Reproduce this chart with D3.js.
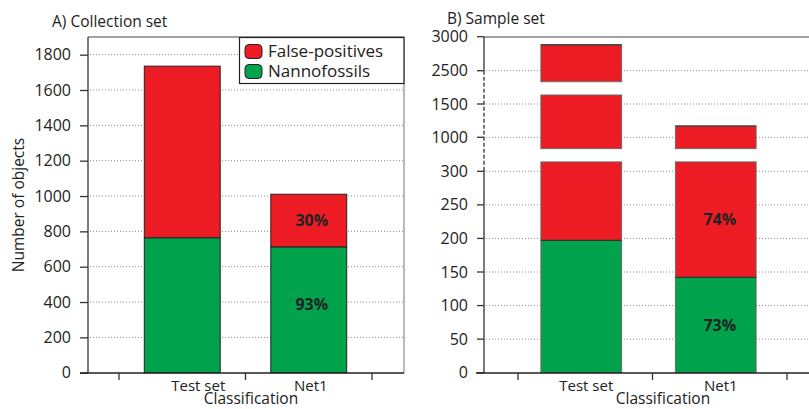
<!DOCTYPE html>
<html>
<head>
<meta charset="utf-8">
<script src="https://cdn.jsdelivr.net/npm/d3@7/dist/d3.min.js"></script>
<style>
  html, body { margin: 0; padding: 0; background: #fff; }
  svg { display: block; font-family: "Open Sans", "DejaVu Sans", sans-serif; }
</style>
</head>
<body>
<svg id="chart" width="809" height="409"></svg>
<script>
// ---- data ----
const categories = ["Test set", "Net1"];
const seriesNames = ["False-positives", "Nannofossils"];

// Panel A: collection set (object counts)
const collectionNanno = [763, 711];
const collectionTotal = [1735, 1010];
const collectionPct = [null, null, "30%", "93%"]; // [testFP, testNanno, netFP, netNanno]

// Panel B: sample set (object counts)
const sampleNanno = [197, 142];
const sampleTotal = [2880, 1170];
const samplePct = [null, null, "74%", "73%"];

const ticksA = [0, 200, 400, 600, 800, 1000, 1200, 1400, 1600, 1800];
const ticksB = [0, 50, 100, 150, 200, 250, 300, 1000, 1500, 2500, 3000];

const RED = "#ED1C24", GREEN = "#00A24B";

const svg = d3.select("#chart");

// dotted horizontal grid helper
function grid(g, ys, x0, x1) {
  g.selectAll("line.grid").data(ys).join("line")
    .attr("class", "grid")
    .attr("x1", x0).attr("x2", x1)
    .attr("y1", d => d).attr("y2", d => d)
    .attr("stroke", "#8a8a8a").attr("stroke-width", 1)
    .attr("stroke-dasharray", "1,2");
}

// ---------------- Panel A ----------------
{
  const L = 88, R = 404, T = 37, B = 373;
  const g = svg.append("g");
  const y = d3.scaleLinear().domain([0, 1900]).range([372.7, T]);
  const x = d3.scaleBand().domain(categories).range([119, 372]).paddingInner(0);
  const bw = x.bandwidth() * 0.6;

  grid(g, ticksA.filter(d => d > 0).map(y), L + 2, R);

  // frame
  g.append("line").attr("x1", L).attr("x2", R).attr("y1", T).attr("y2", T).attr("stroke", "#444");
  g.append("line").attr("x1", R).attr("x2", R).attr("y1", T).attr("y2", B).attr("stroke", "#777");

  const stacks = categories.map((c, i) => ({
    c, nanno: collectionNanno[i], total: collectionTotal[i]
  }));
  // bars: nannofossils at base, false positives stacked on top
  g.selectAll("rect.fp").data(stacks).join("rect")
    .attr("x", d => x(d.c) + (x.bandwidth() - bw) / 2)
    .attr("width", bw)
    .attr("y", d => y(d.total))
    .attr("height", d => y(d.nanno) - y(d.total))
    .attr("fill", RED).attr("stroke", "#222").attr("stroke-width", 1);
  g.selectAll("rect.nn").data(stacks).join("rect")
    .attr("x", d => x(d.c) + (x.bandwidth() - bw) / 2)
    .attr("width", bw)
    .attr("y", d => y(d.nanno))
    .attr("height", d => y(0) - y(d.nanno))
    .attr("fill", GREEN).attr("stroke", "#222").attr("stroke-width", 1);

  // percentage labels
  stacks.forEach((d, i) => {
    const cx = x(d.c) + x.bandwidth() / 2 + 3;
    const fp = collectionPct[i * 2], nn = collectionPct[i * 2 + 1];
    if (fp) g.append("text").attr("x", cx).attr("y", y((d.total + d.nanno) / 2))
      .attr("dy", "0.35em").attr("text-anchor", "middle")
      .attr("font-weight", "bold").attr("font-size", 16).attr("fill", "#222").text(fp);
    if (nn) g.append("text").attr("x", cx).attr("y", y(d.nanno / 2) - 5)
      .attr("dy", "0.35em").attr("text-anchor", "middle")
      .attr("font-weight", "bold").attr("font-size", 16).attr("fill", "#222").text(nn);
  });

  // y axis
  const ya = g.append("g").attr("transform", `translate(${L},0)`)
    .call(d3.axisLeft(y).tickValues(ticksA).tickFormat(d3.format("d"))
      .tickSize(8).tickPadding(9).tickSizeOuter(0));
  ya.select(".domain").attr("d", `M0,${T}V${B}`).attr("stroke", "#333").attr("stroke-width", 1.3);
  ya.selectAll(".tick line").attr("stroke", "#333").attr("stroke-width", 1.3);
  ya.selectAll(".tick text").attr("font-size", 16).attr("fill", "#222")
    .attr("font-family", "Open Sans, sans-serif");

  // x axis: ticks on band boundaries
  g.append("line").attr("x1", L - 8).attr("x2", R).attr("y1", B).attr("y2", B)
    .attr("stroke", "#222").attr("stroke-width", 1.6);
  const bounds = [x.range()[0], ...categories.map(c => x(c) + x.bandwidth())];
  g.selectAll("line.xt").data(bounds).join("line")
    .attr("x1", d => d).attr("x2", d => d).attr("y1", B).attr("y2", B + 7)
    .attr("stroke", "#333").attr("stroke-width", 1.3);
  const labelShiftA = [16, 2];
  g.selectAll("text.xl").data(categories).join("text")
    .attr("x", (d, i) => x(d) + x.bandwidth() / 2 + labelShiftA[i]).attr("y", 391)
    .attr("text-anchor", "middle").attr("font-size", 15).attr("fill", "#222").text(d => d);

  g.append("text").attr("x", 251).attr("y", 404).attr("text-anchor", "middle")
    .attr("font-size", 15.5).attr("fill", "#222").text("Classification");
  g.append("text").attr("transform", `translate(24,${(T + B) / 2}) rotate(-90)`)
    .attr("text-anchor", "middle").attr("font-size", 15.5).attr("fill", "#222").text("Number of objects");
  g.append("text").attr("x", 52).attr("y", 27).attr("font-size", 15.5).attr("fill", "#222")
    .text("A) Collection set");

  // legend
  const lg = g.append("g");
  lg.append("rect").attr("x", 239.5).attr("y", 37.5).attr("width", R - 239.5).attr("height", 46)
    .attr("fill", "#fff").attr("stroke", "#222").attr("stroke-width", 1.2);
  const lcol = [RED, GREEN];
  seriesNames.forEach((n, i) => {
    lg.append("rect").attr("x", 245).attr("y", 44.5 + i * 20).attr("width", 17).attr("height", 14)
      .attr("rx", 4).attr("fill", lcol[i]).attr("stroke", "#222").attr("stroke-width", 1);
    lg.append("text").attr("x", 268).attr("y", 57 + i * 20).attr("font-size", 17)
      .attr("fill", "#222").text(n);
  });
}

// ---------------- Panel B (broken y axis) ----------------
{
  const L = 484, R = 821, T = 37, B = 373;
  const g = svg.append("g");
  // axis pieces: each has its own linear scale and visible value range
  const pieces = [
    { lo: 0,    hi: 314,  s: d3.scaleLinear().domain([0, 300]).range([372.7, 171.3]) },
    { lo: 830,  hi: 1635, s: d3.scaleLinear().domain([1000, 1500]).range([137.3, 104]) },
    { lo: 2338, hi: 3000, s: d3.scaleLinear().domain([2500, 3000]).range([70.7, 36.7]) }
  ];
  const pieceOf = v => pieces.find(p => v >= p.lo && v <= p.hi);
  const y = v => pieceOf(v).s(v);

  const x = d3.scaleBand().domain(categories).range([518, 787]).paddingInner(0);
  const bw = x.bandwidth() * 0.6;
  const barShift = -4;

  grid(g, ticksB.filter(d => d > 0 && d < 3000).map(y), L + 2, R);

  g.append("line").attr("x1", L).attr("x2", R).attr("y1", T).attr("y2", T).attr("stroke", "#444");

  const stacks = categories.map((c, i) => ({
    c, nanno: sampleNanno[i], total: sampleTotal[i]
  }));

  // draw one stacked layer clipped to each axis piece
  function layer(d, v0, v1, fill) {
    pieces.forEach(p => {
      const a = Math.max(v0, p.lo), b = Math.min(v1, p.hi);
      if (b <= a) return;
      const x0 = x(d.c) + (x.bandwidth() - bw) / 2 + barShift;
      g.append("rect").attr("x", x0).attr("width", bw)
        .attr("y", p.s(b)).attr("height", p.s(a) - p.s(b))
        .attr("fill", fill).attr("stroke", "#6a6a6a").attr("stroke-width", 1);
      if (b === v1 && v1 === d.total)
        g.append("line").attr("x1", x0).attr("x2", x0 + bw).attr("y1", p.s(b)).attr("y2", p.s(b))
          .attr("stroke", "#333").attr("stroke-width", 1.2);
    });
  }
  stacks.forEach(d => {
    layer(d, d.nanno, d.total, RED);
    layer(d, 0, d.nanno, GREEN);
    const x0 = x(d.c) + (x.bandwidth() - bw) / 2 + barShift;
    g.append("line").attr("x1", x0).attr("x2", x0 + bw).attr("y1", y(d.nanno)).attr("y2", y(d.nanno))
      .attr("stroke", "#333").attr("stroke-width", 1.2);
  });

  stacks.forEach((d, i) => {
    const cx = x(d.c) + x.bandwidth() / 2;
    const fp = samplePct[i * 2], nn = samplePct[i * 2 + 1];
    const top = Math.min(d.total, pieces[0].hi);
    if (fp) g.append("text").attr("x", cx).attr("y", y((top + d.nanno) / 2))
      .attr("dy", "0.35em").attr("text-anchor", "middle")
      .attr("font-weight", "bold").attr("font-size", 16).attr("fill", "#222").text(fp);
    if (nn) g.append("text").attr("x", cx).attr("y", y(d.nanno / 2))
      .attr("dy", "0.35em").attr("text-anchor", "middle")
      .attr("font-weight", "bold").attr("font-size", 16).attr("fill", "#222").text(nn);
  });

  // y axis line: solid, dashed across the broken region
  g.append("line").attr("x1", L).attr("x2", L).attr("y1", T).attr("y2", y(2500))
    .attr("stroke", "#333").attr("stroke-width", 1.3);
  g.append("line").attr("x1", L).attr("x2", L).attr("y1", y(2500)).attr("y2", y(300) - 4)
    .attr("stroke", "#333").attr("stroke-width", 1.3).attr("stroke-dasharray", "4,2");
  g.append("line").attr("x1", L).attr("x2", L).attr("y1", y(300) - 4).attr("y2", B)
    .attr("stroke", "#333").attr("stroke-width", 1.3);

  g.selectAll("line.yt").data(ticksB).join("line")
    .attr("x1", L - 7).attr("x2", L).attr("y1", d => y(d)).attr("y2", d => y(d))
    .attr("stroke", "#333").attr("stroke-width", 1.3);
  g.selectAll("text.yl").data(ticksB).join("text")
    .attr("x", L - 16).attr("y", d => y(d)).attr("dy", "0.35em")
    .attr("text-anchor", "end").attr("font-size", 16).attr("fill", "#222").text(d => d);

  g.append("line").attr("x1", L - 8).attr("x2", R).attr("y1", B).attr("y2", B)
    .attr("stroke", "#222").attr("stroke-width", 1.6);
  const bounds = [x.range()[0], ...categories.map(c => x(c) + x.bandwidth())];
  g.selectAll("line.xt").data(bounds).join("line")
    .attr("x1", d => d).attr("x2", d => d).attr("y1", B).attr("y2", B + 7)
    .attr("stroke", "#333").attr("stroke-width", 1.3);
  g.selectAll("text.xl").data(categories).join("text")
    .attr("x", d => x(d) + x.bandwidth() / 2 + 1).attr("y", 391)
    .attr("text-anchor", "middle").attr("font-size", 15).attr("fill", "#222").text(d => d);

  g.append("text").attr("x", 663).attr("y", 404).attr("text-anchor", "middle")
    .attr("font-size", 15.5).attr("fill", "#222").text("Classification");
  g.append("text").attr("x", 447).attr("y", 24).attr("font-size", 15.5).attr("fill", "#222")
    .text("B) Sample set");
}
</script>
</body>
</html>
